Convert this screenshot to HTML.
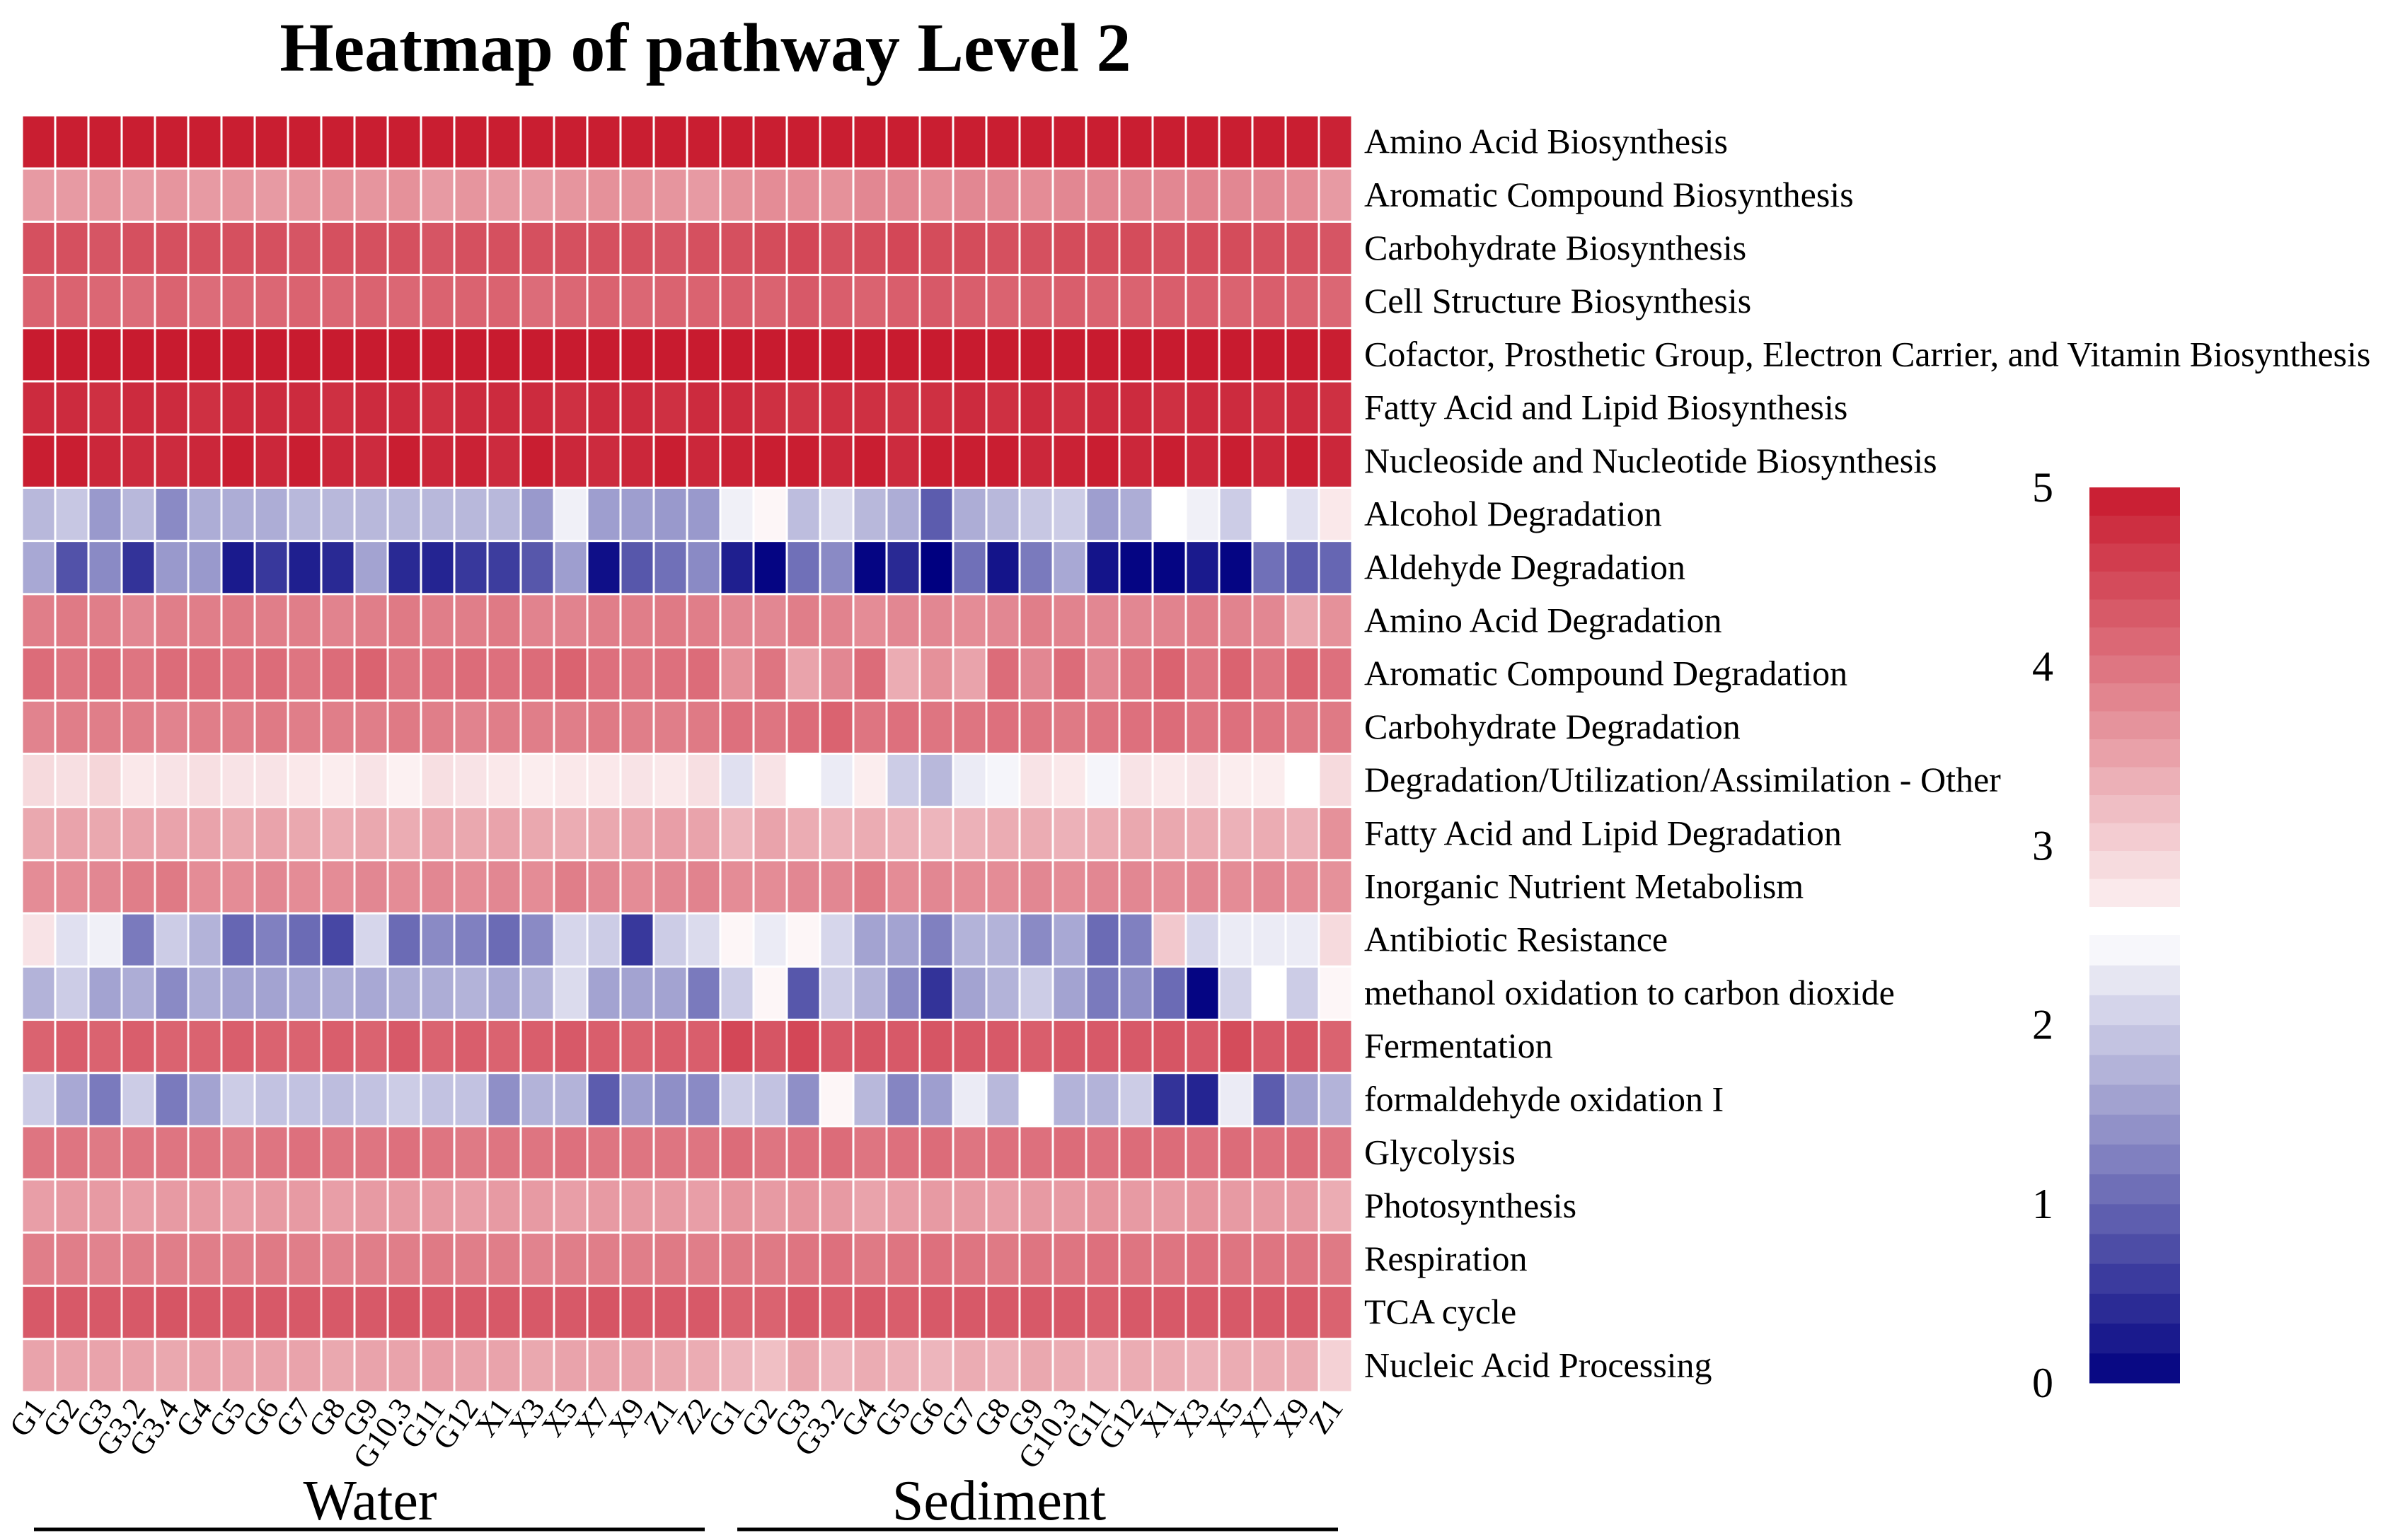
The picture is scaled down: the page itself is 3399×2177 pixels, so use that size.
<!DOCTYPE html>
<html><head><meta charset="utf-8"><style>
html,body{margin:0;padding:0;background:#fff;}
svg{display:block;}
</style></head><body>
<svg id="chart" width="3399" height="2177" viewBox="0 0 3399 2177" xmlns="http://www.w3.org/2000/svg" font-family="'Liberation Serif', serif">
<text x="997" y="100" text-anchor="middle" font-size="98" font-weight="bold">Heatmap of pathway Level 2</text>
<g id="cells"></g>
<g id="rowlabels"></g>
<g id="collabels"></g>
<g id="legend"></g>
<text x="523" y="2148" text-anchor="middle" font-size="80">Water</text>
<line x1="48" y1="2162" x2="996" y2="2162" stroke="#000" stroke-width="5"/>
<text x="1412" y="2148" text-anchor="middle" font-size="80">Sediment</text>
<line x1="1042" y1="2162" x2="1891" y2="2162" stroke="#000" stroke-width="5"/>
</svg>
<script>
const columns = ["G1","G2","G3","G3.2","G3.4","G4","G5","G6","G7","G8","G9","G10.3","G11","G12","X1","X3","X5","X7","X9","Z1","Z2",
"G1","G2","G3","G3.2","G4","G5","G6","G7","G8","G9","G10.3","G11","G12","X1","X3","X5","X7","X9","Z1"];
const pathways = ["Amino Acid Biosynthesis","Aromatic Compound Biosynthesis","Carbohydrate Biosynthesis","Cell Structure Biosynthesis","Cofactor, Prosthetic Group, Electron Carrier, and Vitamin Biosynthesis","Fatty Acid and Lipid Biosynthesis","Nucleoside and Nucleotide Biosynthesis","Alcohol Degradation","Aldehyde Degradation","Amino Acid Degradation","Aromatic Compound Degradation","Carbohydrate Degradation","Degradation/Utilization/Assimilation - Other","Fatty Acid and Lipid Degradation","Inorganic Nutrient Metabolism","Antibiotic Resistance","methanol oxidation to carbon dioxide","Fermentation","formaldehyde oxidation I","Glycolysis","Photosynthesis","Respiration","TCA cycle","Nucleic Acid Processing"];
const legendTicks = [0,1,2,3,4,5];
const v00 = [4.95,4.95,4.95,4.95,4.95,4.95,4.95,4.95,4.95,4.95,4.95,4.95,4.95,4.95,4.95,4.95,4.95,4.95,4.95,4.95,4.95,4.95,4.95,4.95,4.95,4.95,4.95,4.95,4.95,4.95,4.95,4.95,4.95,4.95,4.95,4.95,4.95,4.95,4.95,4.9];
const v01 = [3.6,3.6,3.65,3.6,3.65,3.6,3.65,3.6,3.65,3.7,3.65,3.7,3.6,3.65,3.6,3.6,3.65,3.7,3.7,3.65,3.6,3.7,3.75,3.75,3.7,3.8,3.8,3.75,3.8,3.8,3.75,3.8,3.8,3.8,3.8,3.85,3.8,3.8,3.75,3.6];
const v02 = [4.4,4.4,4.35,4.4,4.4,4.4,4.4,4.4,4.35,4.4,4.4,4.4,4.35,4.4,4.4,4.4,4.4,4.4,4.4,4.35,4.4,4.4,4.45,4.5,4.4,4.45,4.5,4.45,4.45,4.4,4.4,4.45,4.45,4.45,4.4,4.45,4.45,4.4,4.4,4.35];
const v03 = [4.2,4.2,4.15,4.1,4.2,4.1,4.15,4.15,4.2,4.15,4.2,4.15,4.2,4.2,4.2,4.1,4.15,4.2,4.15,4.2,4.2,4.25,4.2,4.3,4.25,4.2,4.25,4.3,4.25,4.2,4.2,4.25,4.2,4.2,4.25,4.25,4.2,4.25,4.2,4.15];
const v04 = [4.98,4.98,4.98,4.98,4.98,4.98,4.98,4.98,4.98,4.98,4.98,4.98,4.98,4.98,4.98,4.98,4.98,4.98,4.98,4.98,4.98,4.98,4.98,4.98,4.98,4.98,4.98,4.98,4.98,4.98,4.98,4.98,4.98,4.98,4.98,4.98,4.98,4.98,4.98,4.95];
const v05 = [4.8,4.8,4.75,4.8,4.8,4.75,4.8,4.8,4.8,4.75,4.8,4.8,4.75,4.8,4.8,4.8,4.75,4.8,4.8,4.75,4.8,4.8,4.75,4.7,4.75,4.75,4.7,4.75,4.8,4.75,4.8,4.75,4.8,4.8,4.75,4.8,4.8,4.75,4.8,4.75];
const v06 = [4.95,4.95,4.85,4.8,4.8,4.85,4.95,4.85,4.95,4.85,4.8,4.95,4.85,4.9,4.8,4.95,4.85,4.8,4.85,4.95,4.85,4.9,4.95,4.95,4.85,4.95,4.8,4.95,4.95,4.95,4.85,4.9,4.95,4.85,4.95,4.85,4.95,4.85,4.95,4.85];
const v07 = [1.8,1.95,1.5,1.8,1.35,1.7,1.7,1.7,1.8,1.8,1.8,1.8,1.8,1.8,1.8,1.5,2.35,1.55,1.55,1.5,1.5,2.35,2.6,1.85,2.15,1.8,1.7,0.9,1.7,1.8,1.95,2.0,1.55,1.7,2.5,2.35,2.0,2.5,2.2,2.75];
const v08 = [1.65,0.8,1.35,0.5,1.5,1.5,0.25,0.55,0.3,0.4,1.6,0.4,0.35,0.55,0.6,0.85,1.55,0.15,0.85,1.1,1.35,0.3,0.05,1.1,1.35,0.05,0.4,0.0,1.1,0.2,1.2,1.65,0.2,0.05,0.05,0.25,0.05,1.1,0.9,1.0];
const v09 = [3.9,3.95,3.9,3.8,3.9,3.9,3.95,3.9,3.9,3.85,3.9,3.95,3.9,3.9,3.95,3.85,3.85,3.9,3.9,3.95,3.9,3.8,3.8,3.9,3.85,3.75,3.8,3.8,3.75,3.8,3.9,3.85,3.8,3.8,3.85,3.9,3.85,3.8,3.45,3.7];
const v10 = [4.1,4.0,4.1,4.0,4.1,4.1,4.05,4.1,4.0,4.1,4.2,4.0,4.05,4.1,4.05,4.1,4.2,4.05,4.0,4.05,4.1,3.7,4.0,3.5,3.8,4.1,3.4,3.7,3.5,4.1,3.8,4.1,3.8,4.0,4.2,4.0,4.2,4.0,4.2,4.05];
const v11 = [3.85,3.9,3.9,3.9,3.85,3.9,3.9,3.95,3.9,3.9,3.9,3.95,3.9,3.85,3.9,3.9,3.9,3.95,3.9,3.9,3.95,4.05,4.0,4.1,4.2,4.0,4.05,4.0,4.0,4.05,4.0,3.95,4.0,4.05,4.1,4.0,4.05,4.0,3.95,3.95];
const v12 = [2.9,2.85,2.95,2.75,2.8,2.85,2.8,2.8,2.75,2.7,2.8,2.65,2.85,2.8,2.75,2.7,2.75,2.75,2.8,2.75,2.85,2.2,2.8,2.5,2.3,2.7,2.0,1.8,2.3,2.4,2.8,2.75,2.4,2.8,2.75,2.8,2.7,2.7,2.5,2.9];
const v13 = [3.45,3.5,3.45,3.5,3.5,3.5,3.45,3.5,3.45,3.4,3.45,3.4,3.5,3.45,3.5,3.45,3.4,3.45,3.5,3.55,3.5,3.3,3.5,3.4,3.35,3.4,3.35,3.3,3.35,3.4,3.4,3.35,3.4,3.45,3.45,3.4,3.35,3.4,3.35,3.7];
const v14 = [3.75,3.75,3.8,3.9,3.95,3.75,3.75,3.8,3.75,3.75,3.8,3.75,3.8,3.75,3.8,3.75,3.9,3.8,3.75,3.8,3.85,3.75,3.75,3.8,3.8,3.95,3.75,3.8,3.75,3.75,3.8,3.75,3.8,3.8,3.75,3.8,3.75,3.8,3.75,3.7];
const v15 = [2.8,2.2,2.35,1.2,2.0,1.75,1.0,1.25,1.05,0.7,2.1,1.05,1.35,1.25,1.05,1.35,2.1,2.0,0.55,2.0,2.15,2.6,2.3,2.6,2.1,1.6,1.6,1.25,1.75,1.75,1.35,1.65,1.05,1.25,3.1,2.1,2.3,2.3,2.3,2.9];
const v16 = [1.75,2.0,1.6,1.7,1.35,1.7,1.6,1.6,1.65,1.7,1.65,1.7,1.7,1.75,1.65,1.75,2.15,1.6,1.6,1.6,1.2,2.0,2.6,0.85,2.0,1.75,1.35,0.5,1.6,1.75,2.0,1.6,1.2,1.4,1.05,0.05,2.05,2.5,2.0,2.6];
const v17 = [4.2,4.25,4.2,4.25,4.2,4.2,4.25,4.2,4.2,4.25,4.2,4.3,4.2,4.25,4.2,4.25,4.3,4.25,4.2,4.25,4.25,4.5,4.35,4.5,4.3,4.35,4.3,4.35,4.3,4.3,4.25,4.3,4.3,4.3,4.35,4.3,4.45,4.3,4.35,4.2];
const v18 = [2.0,1.65,1.2,2.0,1.2,1.6,2.0,1.9,1.9,1.85,1.9,2.0,1.9,1.9,1.4,1.75,1.75,0.9,1.55,1.4,1.35,2.0,1.9,1.4,2.6,1.8,1.3,1.55,2.3,1.8,2.5,1.75,1.75,2.0,0.5,0.35,2.3,0.9,1.6,1.75];
const v19 = [4.0,4.0,3.95,4.0,4.0,4.0,3.95,4.0,4.05,4.0,4.0,4.05,4.0,3.95,4.0,4.0,4.05,4.0,4.0,4.0,4.0,4.1,4.0,4.05,4.1,4.0,4.05,4.1,4.0,4.05,4.05,4.1,4.05,4.1,4.1,4.05,4.1,4.05,4.1,4.0];
const v20 = [3.55,3.6,3.6,3.55,3.6,3.6,3.55,3.6,3.6,3.55,3.6,3.6,3.6,3.55,3.6,3.6,3.55,3.6,3.6,3.6,3.55,3.65,3.6,3.65,3.6,3.5,3.55,3.6,3.6,3.55,3.6,3.6,3.65,3.6,3.6,3.65,3.6,3.6,3.6,3.4];
const v21 = [3.9,3.9,3.85,3.9,3.9,3.9,3.9,3.95,3.9,3.85,3.9,3.9,3.95,3.9,3.9,3.85,3.9,3.9,3.9,3.95,3.9,3.95,3.95,4.0,4.05,3.95,4.0,4.05,4.0,3.95,4.0,4.0,4.05,4.0,4.0,4.05,4.0,4.0,4.0,3.95];
const v22 = [4.3,4.3,4.3,4.3,4.35,4.3,4.3,4.3,4.3,4.3,4.3,4.35,4.3,4.3,4.3,4.3,4.3,4.35,4.3,4.3,4.3,4.2,4.2,4.3,4.25,4.3,4.25,4.3,4.3,4.3,4.3,4.3,4.25,4.3,4.3,4.3,4.3,4.3,4.3,4.2];
const v23 = [3.5,3.5,3.5,3.5,3.45,3.5,3.5,3.5,3.5,3.45,3.5,3.5,3.55,3.5,3.5,3.45,3.5,3.5,3.5,3.45,3.4,3.3,3.2,3.45,3.3,3.4,3.35,3.3,3.4,3.35,3.45,3.4,3.35,3.4,3.4,3.35,3.4,3.4,3.4,3.0];
const values = [v00,v01,v02,v03,v04,v05,v06,v07,v08,v09,v10,v11,v12,v13,v14,v15,v16,v17,v18,v19,v20,v21,v22,v23];

const NS = "http://www.w3.org/2000/svg";
const gx0 = 31, gx1 = 1911, gy0 = 163, gy1 = 1968;
const cw = (gx1 - gx0) / columns.length, ch = (gy1 - gy0) / pathways.length;
function xPos(i){ return gx0 + i * cw; }
function yPos(j){ return gy0 + j * ch; }
function color(v){
  const t = Math.max(0, Math.min(5, v));
  let r,g,b;
  if (t < 2.5){ const f = t / 2.5; r = 255*f; g = 255*f; b = 128 + 127*f; }
  else { const f = (t - 2.5) / 2.5; r = 255 - 55*f; g = 255 - 230*f; b = 255 - 210*f; }
  return "rgb(" + Math.round(r) + "," + Math.round(g) + "," + Math.round(b) + ")";
}
function mk(tag, attrs){ const e = document.createElementNS(NS, tag); for (const k in attrs) e.setAttribute(k, attrs[k]); return e; }

const cells = document.getElementById("cells");
values.forEach((row, j) => {
  row.forEach((v, i) => {
    const r = mk("rect", {x: xPos(i), y: yPos(j), width: cw, height: ch, fill: color(v), stroke: "#fff", "stroke-width": 3});
    
    
    cells.appendChild(r);
  });
});
const rl = document.getElementById("rowlabels");
pathways.forEach((p, j) => {
  const t = mk("text", {x: 1928, y: yPos(j) + ch/2 + 16, "font-size": 50});
  t.textContent = p;
  
  
  rl.appendChild(t);
});
const cl = document.getElementById("collabels");
columns.forEach((c, i) => {
  const cx = xPos(i) + cw/2 + 12, cy = 1990;
  const t = mk("text", {x: cx, y: cy, "font-size": 44, "text-anchor": "end", transform: "rotate(-55 " + cx + " " + cy + ")"});
  t.textContent = c;
  
  
  cl.appendChild(t);
});
const lg = document.getElementById("legend");
const ly0 = 1955, ly5 = 689;
function ly(v){ return ly0 - v * (ly0 - ly5) / 5; }
const nb = 15;
for (let k = 0; k < nb; k++){
  const a = 2.66 + k * (5 - 2.66) / nb, b2 = 2.66 + (k+1) * (5 - 2.66) / nb;
  const r = mk("rect", {x: 2953, y: ly(b2), width: 128, height: ly(a) - ly(b2) + 0.5, fill: color((a+b2)/2)});
  
  
  lg.appendChild(r);
  const c0 = k * 2.5 / nb, c1 = (k+1) * 2.5 / nb;
  const r2 = mk("rect", {x: 2953, y: ly(c1), width: 128, height: ly(c0) - ly(c1) + 0.5, fill: color((c0+c1)/2)});
  
  
  lg.appendChild(r2);
}
legendTicks.forEach(v => {
  const t = mk("text", {x: 2887, y: ly(v) + 20, "font-size": 60, "text-anchor": "middle"});
  t.textContent = v;
  
  
  lg.appendChild(t);
});
</script>
</body></html>
